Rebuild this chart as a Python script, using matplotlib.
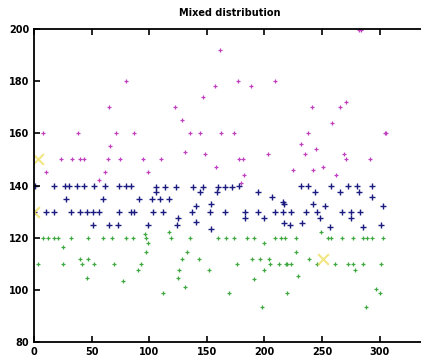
import matplotlib
matplotlib.use("Agg")
import matplotlib.pyplot as plt

title = "Mixed distribution"

# upper cluster (magenta)
mag_x = [161, 282, 80, 65, 147, 122, 128, 8, 38, 71, 87, 135, 144, 66,
         23, 33, 40, 43, 64, 75, 95, 110, 131, 148, 99, 10, 62, 56,
         157, 177, 188, 209, 271, 241, 266, 259, 162, 174, 238, 306,
         232, 245, 203, 235, 269, 178, 181, 271, 292, 158, 225, 242,
         251, 182, 262, 180, 305, 284]
mag_y = [192, 199.5, 180, 170, 174, 170, 165, 160, 160, 160, 160, 160, 160, 155,
         150, 150, 150, 150, 150, 150, 150, 150, 153, 152, 145, 145, 145, 142,
         178, 180, 178, 180, 172, 170, 170, 164, 160, 160, 160, 160,
         156, 154, 152, 152, 152, 150, 150, 150, 150, 147, 146, 146,
         147, 144, 144, 141, 160, 199.6]

# middle cluster (blue)
blu_x = [1, 17, 27, 30, 37, 43, 52, 62, 74, 80, 84, 106, 28, 60, 91, 102,
         0, 10, 17, 32, 40, 46, 51, 56, 74, 84, 87, 103, 51, 65, 73, 99,
         106, 114, 123, 138, 147, 160, 166, 172, 144, 159, 194, 178, 216, 207, 109, 117,
         112, 137, 153, 166, 183, 194, 209, 216, 125, 141, 154, 141, 183, 200, 124, 154, 217,
         232, 238, 258, 273, 280, 293, 244, 266, 282, 293, 217, 242, 253, 303,
         223, 236, 246, 267, 275, 283, 248, 275, 233, 257, 286, 301, 222]
blu_y = [140, 140, 140, 140, 140, 140, 140, 140, 140, 140, 140, 137.5, 135, 135, 135, 135,
         130, 130, 130, 130, 130, 130, 130, 130, 130, 130, 130, 130, 125, 125, 125, 125,
         139.5, 139.5, 139.5, 139.5, 139.5, 139.5, 139.5, 139.5, 137.5, 137.5, 137.5, 140, 133.5, 135.5, 135, 135,
         130, 130, 130, 130, 130, 130, 130, 130, 127.5, 126, 133, 132, 127.5, 127.5, 125, 123.5, 125.5,
         140, 140, 140, 140, 140, 140, 137.5, 137.5, 137.5, 135.5, 133, 133, 132, 132,
         130, 130, 130, 130, 130, 130, 127.5, 127.5, 125.5, 124, 124, 125, 125]

# lower cluster (green)
grn_x = [8, 12, 17, 21, 32, 47, 60, 68, 80, 86, 97, 25, 96, 99, 97,
         3, 25, 42, 52, 69, 93, 40, 47, 90, 46, 77,
         119, 135, 160, 167, 174, 185, 191, 209, 214, 117, 200, 133, 128, 143,
         176, 189, 196, 204, 205, 213, 219, 126, 152, 200, 125, 191, 131, 112, 169, 198,
         218, 227, 255, 258, 267, 277, 286, 289, 293, 303, 249, 227, 239,
         220, 223, 246, 261, 273, 277, 286, 301, 229, 279, 220, 297, 300, 288]
grn_y = [120, 120, 120, 120, 120, 120, 120, 120, 120, 120, 120, 116.5, 121.5, 118, 114.5,
         110, 110, 110, 110, 110, 110, 112, 112, 107.5, 104.5, 103.5,
         120, 120, 120, 120, 120, 120, 120, 120, 120, 122, 118, 114.5, 112, 112,
         110, 112, 112, 112, 110, 110, 110, 107.5, 107.5, 107.5, 104.7, 104.3, 101, 99, 99, 93.3,
         120, 120, 120, 120, 120, 120, 120, 120, 120, 120, 122, 114.5, 112,
         110, 110, 110, 110, 110, 110, 110, 110, 105.5, 107.5, 99, 100.5, 99, 93.3]

# centres (yellow crosses)
cen_x = [3, 0, 251]
cen_y = [150, 130, 112]

xticks = [0, 50, 100, 150, 200, 250, 300]
yticks = [80, 100, 120, 140, 160, 180, 200]

fig = plt.figure(figsize=(4.21, 3.62), dpi=100)
ax = fig.add_axes([0.081, 0.055, 0.93, 0.865])

ax.scatter(mag_x, mag_y, marker="+", s=12, linewidths=0.9, color="#c040c0")
ax.scatter(blu_x, blu_y, marker="+", s=14, linewidths=1.0, color="#1c1c80")
ax.scatter(grn_x, grn_y, marker="+", s=12, linewidths=0.9, color="#40a840")
ax.scatter(cen_x, cen_y, marker="x", s=60, linewidths=1.5, color="#f0e060", alpha=0.8)

ax.set_xlim(0, 340)
ax.set_ylim(80, 200)
ax.set_xticks(xticks)
ax.set_yticks(yticks)
ax.tick_params(direction="in", top=True, length=4, width=1.2, labelsize=7)
for lbl in ax.get_xticklabels() + ax.get_yticklabels():
    lbl.set_fontweight("bold")
for s in ax.spines.values():
    s.set_linewidth(1.3)

ax.set_title(title, fontsize=7, fontweight="bold", pad=9)

fig.savefig("out.png", dpi=100)
